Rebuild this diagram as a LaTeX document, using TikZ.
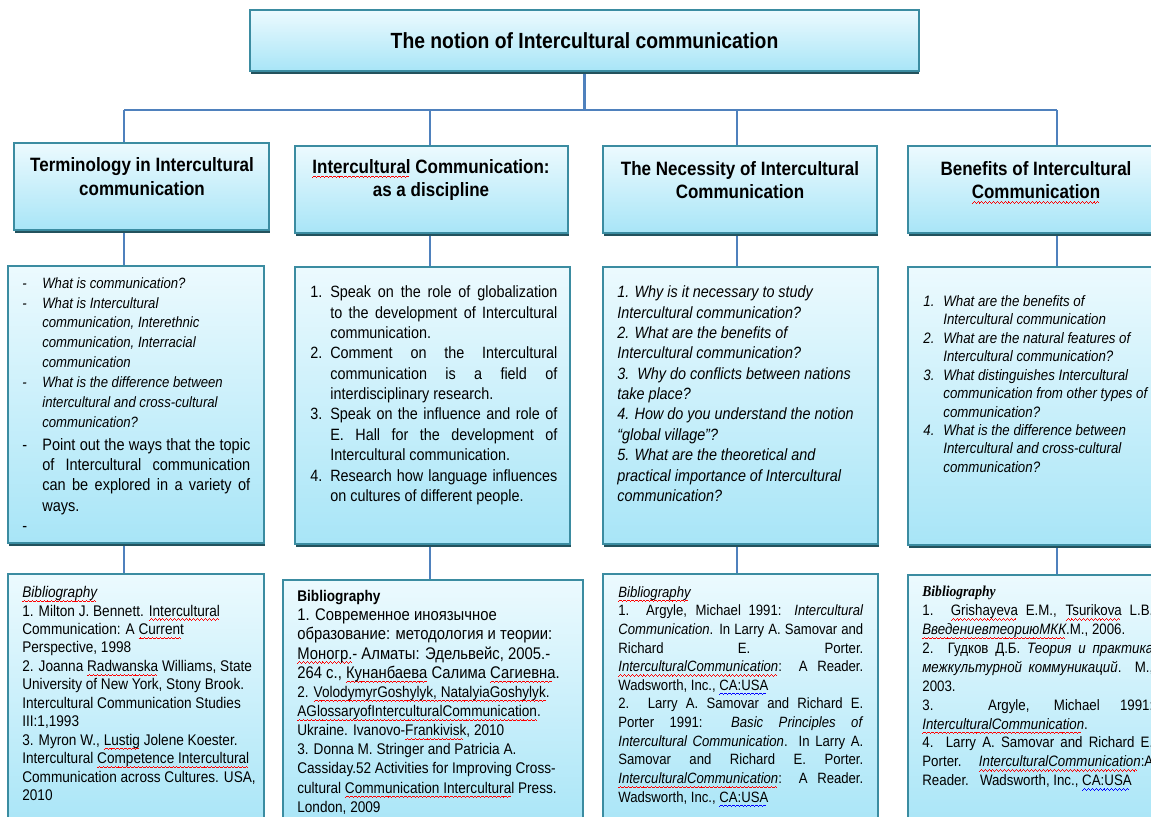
\documentclass[tikz,border=0pt]{standalone}
\usepackage{fontspec}
\setmainfont{Liberation Sans}[FakeStretch=0.88]
\newfontfamily\bibserif{Liberation Serif}[FakeStretch=0.9]
\usepackage{tikz}
\usetikzlibrary{positioning,shadows,backgrounds}

\definecolor{boxtop}{HTML}{ECFAFE}
\definecolor{boxbot}{HTML}{A8E5F7}
\definecolor{boxline}{HTML}{3B8CA1}
\definecolor{boxshade}{HTML}{23525D}
\definecolor{linkblue}{HTML}{4F81BD}

\newcommand{\jl}[2]{\makebox[#1][s]{#2}}
\newcommand{\dsh}{\makebox[0.4cm][l]{-}}
\newcommand{\nm}[1]{\makebox[0.4cm][l]{#1}}
\newcommand{\ind}{\hspace*{0.4cm}}
\newcommand{\rus}{\fontsize{9.6}{10.9}\selectfont}
% spell-check waves
\newlength{\wavewd}
\newcommand{\wavy}[2]{\settowidth{\wavewd}{#2}\rlap{\smash{\color{#1}\leaders\hbox{%
  \rule[-2.7pt]{0.55pt}{0.5pt}\rule[-2.3pt]{0.55pt}{0.5pt}\rule[-1.9pt]{0.55pt}{0.5pt}\rule[-2.3pt]{0.55pt}{0.5pt}}\hskip\wavewd}}#2}
\newcommand{\sperr}{\wavy{red}}
\newcommand{\gramerr}{\wavy{blue}}

\begin{document}
\begin{tikzpicture}[x=0.02cm,y=-0.02cm,
  box/.style={rectangle,draw=boxline,line width=1.1pt,top color=boxtop,bottom color=boxbot,inner sep=0pt,
    drop shadow={shadow xshift=0.3pt,shadow yshift=-1.5pt,fill=boxshade,opacity=1}},
  htxt/.style={align=center,inner sep=0pt,font=\fontsize{11}{13.4}\selectfont\bfseries},
  txt/.style={anchor=north west,inner sep=0pt,align=left},
  link/.style={draw=linkblue,line width=1.3pt},
]
\useasboundingbox (0,0) rectangle (1151,816);
\clip (0,0) rectangle (1151,816);

% Title
\node[box,minimum width=13.38cm,minimum height=1.22cm,font=\fontsize{12.5}{14}\selectfont\bfseries] (T) at (584.5,40.5) {The notion of Intercultural communication};

% Headers
\node[box,minimum width=5.1cm,minimum height=1.74cm] (H1) at (141.5,186.5) {};
\node[box,minimum width=5.46cm,minimum height=1.74cm] (H2) at (431.5,189.5) {};
\node[box,minimum width=5.48cm,minimum height=1.74cm] (H3) at (740,189.5) {};
\node[box,minimum width=5.64cm,minimum height=1.74cm] (H4) at (1049,189.5) {};
\node[htxt] (H1t) at (142,176.5) {Terminology in Intercultural\\communication};
\node[htxt] (H2t) at (431,180) {\sperr{Intercultural} Communication:\\as a discipline};
\node[htxt] (H3t) at (740,180) {The Necessity of Intercultural\\Communication};
\node[htxt] (H4t) at (1036,180) {Benefits of Intercultural\\\sperr{Communication}};

% Questions
\node[box,minimum width=5.12cm,minimum height=5.54cm] (Q1) at (136,404.5) {};
\node[box,minimum width=5.5cm,minimum height=5.54cm] (Q2) at (432.5,405.5) {};
\node[box,minimum width=5.5cm,minimum height=5.54cm] (Q3) at (740.5,405.5) {};
\node[box,minimum width=5.64cm,minimum height=5.56cm] (Q4) at (1049,406) {};

\node[txt,font=\fontsize{8.5}{11.3}\selectfont\itshape] (Q1t) at (22,277) {%
\dsh What is communication?\\
\dsh What is Intercultural\\
\ind communication, Interethnic\\
\ind communication, Interracial\\
\ind communication\\
\dsh What is the difference between\\
\ind intercultural and cross-cultural\\
\ind communication?};
\node[txt,font=\fontsize{9.4}{11.55}\selectfont] (Q1u) at (22,438) {%
\dsh\jl{4.16cm}{Point out the ways that the topic}\\
\ind\jl{4.16cm}{of Intercultural communication}\\
\ind\jl{4.16cm}{can be explored in a variety of}\\
\ind ways.\\
-};

\node[txt,font=\fontsize{9.3}{11.6}\selectfont] (Q2t) at (310,285.5) {%
\nm{1.}\jl{4.54cm}{Speak on the role of globalization}\\
\ind\jl{4.54cm}{to the development of Intercultural}\\
\ind communication.\\
\nm{2.}\jl{4.54cm}{Comment on the Intercultural}\\
\ind\jl{4.54cm}{communication is a field of}\\
\ind interdisciplinary research.\\
\nm{3.}\jl{4.54cm}{Speak on the influence and role of}\\
\ind\jl{4.54cm}{E. Hall for the development of}\\
\ind Intercultural communication.\\
\nm{4.}\jl{4.54cm}{Research how language influences}\\
\ind on cultures of different people.};

\node[txt,font=\fontsize{9.3}{11.6}\selectfont\itshape] (Q3t) at (617,285.5) {%
1. Why is it necessary to study\\
Intercultural communication?\\
2. What are the benefits of\\
Intercultural communication?\\
3.~~Why do conflicts between nations\\
take place?\\
4. How do you understand the notion\\
“global village”?\\
5. What are the theoretical and\\
practical importance of Intercultural\\
communication?};

\node[txt,font=\fontsize{8.6}{10.5}\selectfont\itshape] (Q4t) at (923,295) {%
\nm{1.}What are the benefits of\\
\ind Intercultural communication\\
\nm{2.}What are the natural features of\\
\ind Intercultural communication?\\
\nm{3.}What distinguishes Intercultural\\
\ind communication from other types of\\
\ind communication?\\
\nm{4.}What is the difference between\\
\ind Intercultural and cross-cultural\\
\ind communication?};

% Bibliography
\node[box,minimum width=5.12cm,minimum height=5.12cm] (B1) at (136,702) {};
\node[box,minimum width=6cm,minimum height=5cm] (B2) at (433,705) {};
\node[box,minimum width=5.5cm,minimum height=5.12cm] (B3) at (740.5,702) {};
\node[box,minimum width=5.64cm,minimum height=5.1cm] (B4) at (1049,702.5) {};

\node[txt,font=\fontsize{8.8}{10.5}\selectfont] (B1t) at (22,586) {%
\textit{\sperr{Bibliography}}\\
1. Milton J. Bennett. \sperr{Intercultural}\\
Communication: A \sperr{Current}\\
Perspective, 1998\\
2. Joanna \sperr{Radwanska} Williams, State\\
University of New York, Stony Brook.\\
Intercultural Communication Studies\\
III:1,1993\\
3. Myron W., \sperr{Lustig} Jolene Koester.\\
Intercultural \sperr{Competence Intercultural}\\
Communication across Cultures. USA,\\
2010};

\node[txt,font=\fontsize{8.8}{10.9}\selectfont] (B2t) at (297,590) {%
\textbf{Bibliography}\\
{\rus 1. Современное иноязычное}\\
{\rus образование: методология и теории:}\\
{\rus \sperr{Моногр.}- Алматы: Эдельвейс, 2005.-}\\
{\rus 264 с., \sperr{Кунанбаева} Салима \sperr{Сагиевна}.}\\
2. \sperr{VolodymyrGoshylyk, NatalyiaGoshylyk}.\\
\sperr{AGlossaryofInterculturalCommunication}.\\
Ukraine. Ivanovo-\sperr{Frankivisk}, 2010\\
3. Donna M. Stringer and Patricia A.\\
Cassiday.52 Activities for Improving Cross-\\
cultural \sperr{Communication Intercultural} Press.\\
London, 2009};

\node[txt,font=\fontsize{8.5}{10.6}\selectfont] (B3t) at (618,586) {%
\textit{\sperr{Bibliography}}\\
\jl{4.9cm}{1. Argyle, Michael 1991: \textit{Intercultural}}\\
\jl{4.9cm}{\textit{Communication}. In Larry A. Samovar and}\\
\jl{4.9cm}{Richard E. Porter.}\\
\jl{4.9cm}{\textit{\sperr{InterculturalCommunication}}: A Reader.}\\
Wadsworth, Inc., \gramerr{CA:USA}\\
\jl{4.9cm}{2. Larry A. Samovar and Richard E.}\\
\jl{4.9cm}{Porter 1991: \textit{Basic Principles of}}\\
\jl{4.9cm}{\textit{Intercultural Communication}. In Larry A.}\\
\jl{4.9cm}{Samovar and Richard E. Porter.}\\
\jl{4.9cm}{\textit{\sperr{InterculturalCommunication}}: A Reader.}\\
Wadsworth, Inc., \gramerr{CA:USA}};

\node[txt,font=\fontsize{8.6}{10.75}\selectfont] (B4t) at (922,586) {%
{\bibserif\bfseries\itshape Bibliography}\\
\jl{4.62cm}{1. \sperr{Grishayeva} E.M., \sperr{Tsurikova} L.B.}\\
\textit{\sperr{ВведениевтеориюМКК}}.М., 2006.\\
\jl{4.62cm}{2. Гудков Д.Б. \textit{Теория и практика}}\\
\jl{4.62cm}{\textit{межкультурной коммуникаций}. М.,}\\
2003.\\
\jl{4.62cm}{3. Argyle, Michael 1991:}\\
\textit{\sperr{InterculturalCommunication}}.\\
\jl{4.62cm}{4. Larry A. Samovar and Richard E.}\\
\jl{4.62cm}{Porter. \textit{\sperr{InterculturalCommunication}}:A}\\
Reader.~~~Wadsworth, Inc., \gramerr{CA:USA}};

% Connectors
\coordinate (c1) at (124,110);
\coordinate (c2) at (430,110);
\coordinate (c3) at (737,110);
\coordinate (c4) at (1057,110);
\begin{scope}[on background layer]
\draw[link] (T.south) -- (T.south|-c1);
\draw[link] (c1) -- (c4);
\foreach \i in {1,...,4}{
  \draw[link] (c\i) -- (c\i|-H\i.north);
  \draw[link] (c\i|-H\i.south) -- (c\i|-Q\i.north);
  \draw[link] (c\i|-Q\i.south) -- (c\i|-B\i.north);
}
\end{scope}

\end{tikzpicture}
\end{document}
